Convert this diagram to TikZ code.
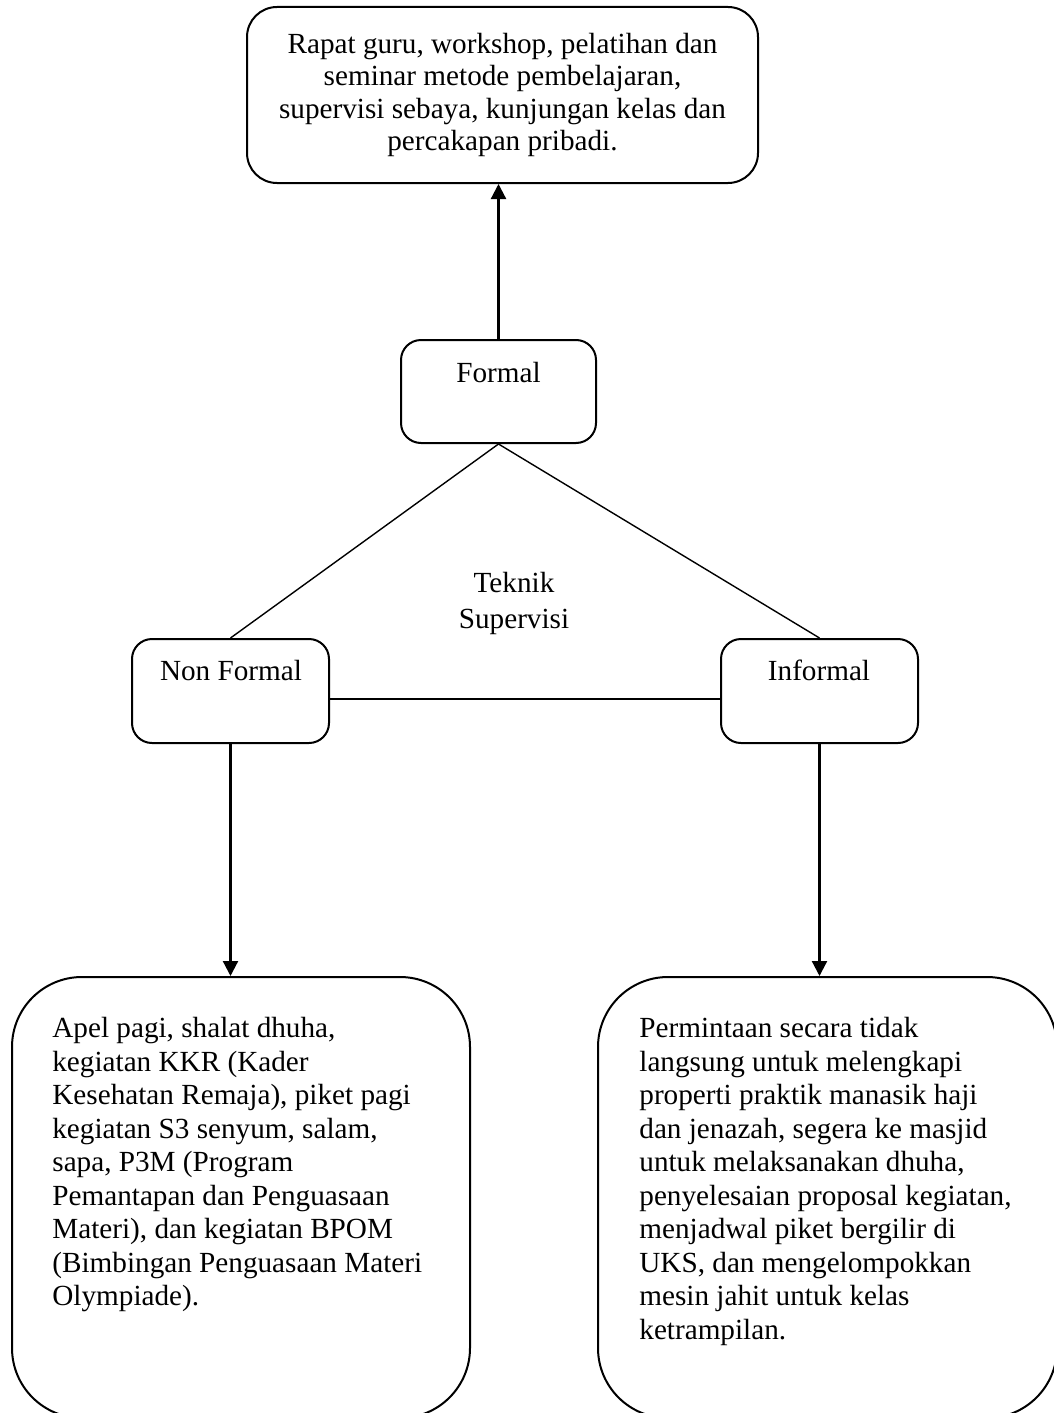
\documentclass[tikz,border=0pt]{standalone}
\usepackage{fontspec}
\setmainfont{Liberation Serif}
\usetikzlibrary{arrows.meta}
\tikzset{
  kotak/.style={draw, line width=1pt, rounded corners=#1, inner sep=0pt},
  kotak/.default=10pt,
  teks/.style={inner sep=0pt, font=\fontsize{14.6pt}{16.75pt}\selectfont},
  garis/.style={line width=0.7pt},
  panah/.style={line width=1.1pt, -{Triangle[width=7.5pt, length=7.5pt]}}
}
\begin{document}
\begin{tikzpicture}[x=0.5pt, y=-0.5pt]
\useasboundingbox (0, 0) rectangle (1054, 1413);
\node[kotak=15pt, teks, align=center, minimum width=255.5pt, minimum height=88pt, font=\fontsize{14.6pt}{16.2pt}\selectfont] (rapat) at (502.5, 95) {Rapat guru, workshop, pelatihan dan\\seminar metode pembelajaran,\\supervisi sebaya, kunjungan kelas dan\\percakapan pribadi.};
\node[kotak, minimum width=97.5pt, minimum height=51.5pt] (formal) at (498.5, 391.5) {};
\node[teks, anchor=base] (formalteks) at (498.5, 382) {Formal};
\node[kotak, minimum width=98.5pt, minimum height=52pt] (nonformal) at (230.5, 691) {};
\node[teks, anchor=base] (nonformalteks) at (231, 680) {Non Formal};
\node[kotak, minimum width=98.5pt, minimum height=52pt] (informal) at (819.5, 691) {};
\node[teks, anchor=base] (informalteks) at (819, 680) {Informal};
\node[teks, align=center, font=\fontsize{14.6pt}{18pt}\selectfont] (teknik) at (514, 603) {Teknik\\Supervisi};
\node[kotak=35pt, minimum width=229pt, minimum height=220.5pt] (kiri) at (241, 1197.5) {};
\node[teks, align=left, anchor=north west] (kiriteks) at (52, 1017) {Apel pagi, shalat dhuha,\\kegiatan KKR (Kader\\Kesehatan Remaja), piket pagi\\kegiatan S3 senyum, salam,\\sapa, P3M (Program\\Pemantapan dan Penguasaan\\Materi), dan kegiatan BPOM\\(Bimbingan Penguasaan Materi\\Olympiade).};
\node[kotak=35pt, minimum width=229.5pt, minimum height=220.5pt] (kanan) at (827.5, 1197.5) {};
\node[teks, align=left, anchor=north west] (kananteks) at (639, 1017) {Permintaan secara tidak\\langsung untuk melengkapi\\properti praktik manasik haji\\dan jenazah, segera ke masjid\\untuk melaksanakan dhuha,\\penyelesaian proposal kegiatan,\\menjadwal piket bergilir di\\UKS, dan mengelompokkan\\mesin jahit untuk kelas\\ketrampilan.};
\draw[panah] (formal.north) -- (formal.north |- rapat.south);
\draw[garis] (formal.south) -- (nonformal.north);
\draw[garis] (formal.south) -- (informal.north);
\draw[garis] ([yshift=-4pt]nonformal.east) -- ([yshift=-4pt]informal.west);
\draw[panah] (nonformal.south) -- (nonformal.south |- kiri.north);
\draw[panah] (informal.south) -- (informal.south |- kanan.north);
\end{tikzpicture}
\end{document}
